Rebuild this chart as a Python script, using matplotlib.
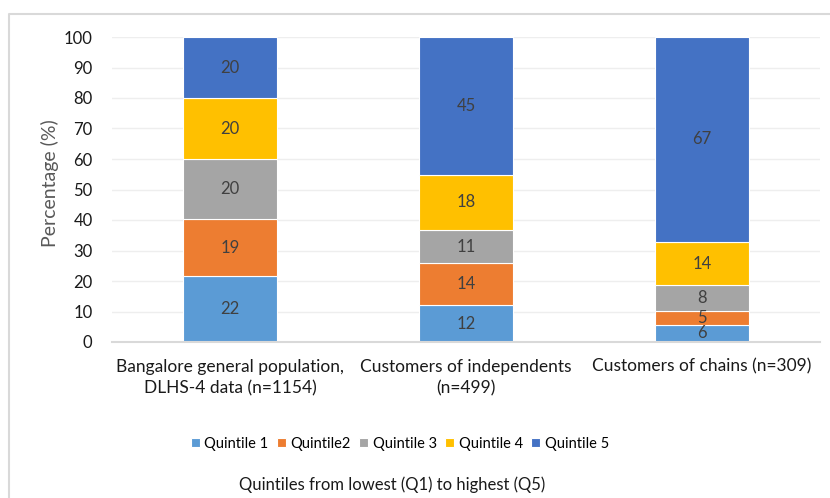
import numpy as np
import matplotlib.pyplot as plt
from matplotlib.lines import Line2D

plt.rcParams['font.family'] = ['Lato', 'DejaVu Sans']

categories = ["Bangalore general population,\nDLHS-4 data (n=1154)",
              "Customers of independents\n(n=499)",
              "Customers of chains (n=309)"]
series_names = ["Quintile 1", "Quintile2", "Quintile 3", "Quintile 4", "Quintile 5"]
q1 = [21.6, 12.1, 5.6]
q2 = [18.6, 13.9, 4.6]
q3 = [19.7, 10.6, 8.4]
q4 = [20.1, 18.3, 14.2]
q5 = [20.0, 45.1, 67.2]
colors = ["#5B9BD5", "#ED7D31", "#A5A5A5", "#FFC000", "#4472C4"]

fig = plt.figure(figsize=(8.3, 4.98), dpi=100)
ax = fig.add_axes([112 / 830, 1 - 342 / 498, 708 / 830, 305 / 498])

x = np.arange(len(categories))
bottom = np.zeros(len(categories))
for vals, name, c in zip([q1, q2, q3, q4, q5], series_names, colors):
    vals = np.array(vals)
    bars = ax.bar(x, vals, width=0.4, bottom=bottom, color=c, label=name,
                  edgecolor="white", linewidth=0.8, zorder=2)
    ax.bar_label(bars, labels=[f"{v:.0f}" for v in vals], label_type="center",
                 color="#404040", fontsize=12)
    bottom += vals

ax.set_xlim(-0.5, 2.5)
ax.set_ylim(0, 100)
ax.set_yticks(range(0, 101, 10))
ax.set_xticks(x)
ax.set_xticklabels(categories, fontsize=12.5, color="#1a1a1a",
                   multialignment="center", linespacing=1.45)
ax.tick_params(axis="y", length=0, labelsize=12, labelcolor="#1a1a1a", pad=14)
ax.tick_params(axis="x", length=0, pad=12)
ax.grid(True, axis="y", color="#eeeeee", linewidth=1, zorder=0)
for s in ["top", "right", "left"]:
    ax.spines[s].set_visible(False)
ax.spines["bottom"].set_color("#d9d9d9")
ax.spines["bottom"].set_linewidth(1.5)

fig.text(50 / 830, 1 - 183 / 498, "Percentage (%)", rotation=90,
         ha="center", va="center", fontsize=14, color="#595959")

handles, labels = ax.get_legend_handles_labels()
fig.legend(handles, labels, loc="center", bbox_to_anchor=(400 / 830, 1 - 444 / 498),
           ncol=5, frameon=False, fontsize=10.5, handlelength=0.6, handleheight=0.6,
           handletextpad=0.3, columnspacing=0.6)

fig.text(392 / 830, 1 - 485 / 498, "Quintiles from lowest (Q1) to highest (Q5)",
         ha="center", va="center", fontsize=12, color="#1a1a1a")

# outer chart border (top and left visible)
fig.add_artist(Line2D([9 / 830, 9 / 830, 1], [0, 1 - 14 / 498, 1 - 14 / 498],
                      transform=fig.transFigure, color="#d9d9d9", linewidth=1.5))

fig.savefig("out.png", dpi=100)
